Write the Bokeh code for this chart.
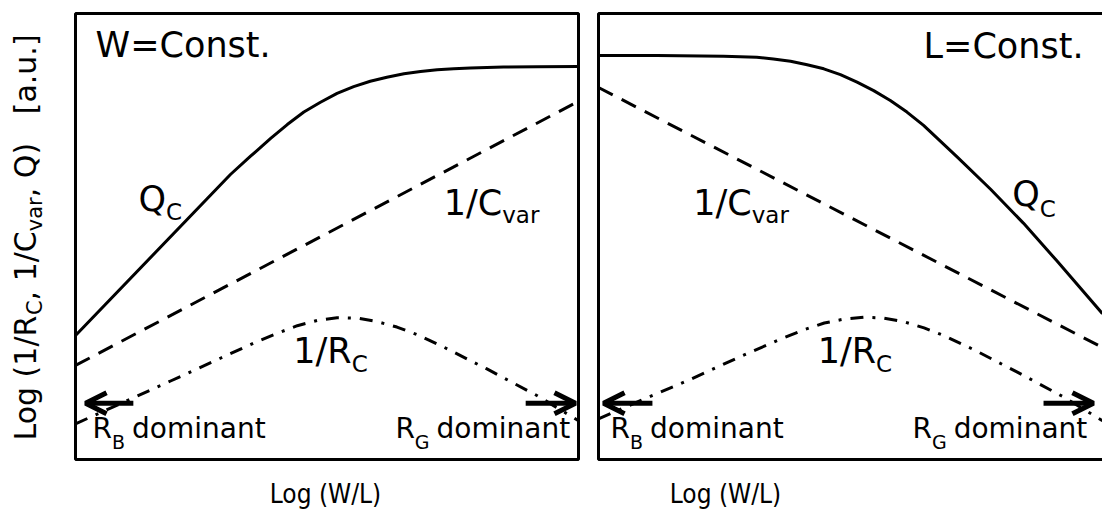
from bokeh.plotting import figure
from bokeh.layouts import row
from bokeh.models import Range1d, Arrow, OpenHead
from bokeh.core.properties import value
from bokeh.embed import file_html
from bokeh.resources import INLINE
import math

FONT = "DejaVu Sans"
NARROW_FONT = "DejaVu Sans Condensed, DejaVu Sans"

# ---------------- schematic curves (panel units: 0..100 on both axes) ----------------
# W = Const. panel
w_qc_x = [0, 30.8, 34.8, 38.8, 42.1, 45.4, 48.7, 52.0, 55.3, 58.6,
          61.9, 65.3, 68.6, 71.9, 75.2, 78.5, 85.1, 91.8, 100]
w_qc_y = [27.8, 63.9, 68.0, 72.0, 75.1, 77.9, 80.1, 82.1, 83.6, 84.8,
          85.7, 86.5, 87.0, 87.4, 87.6, 87.8, 88.0, 88.05, 88.1]
w_cvar_x = [0, 100]
w_cvar_y = [21.1, 80.3]
w_rc_x = [0, 8.9, 18.9, 28.8, 35.4, 40.1, 44.1, 48.1, 52.0, 56.0, 60.0, 63.9,
          67.9, 73.2, 81.8, 91.8, 100]
w_rc_y = [8.0, 12.5, 17.6, 22.7, 26.1, 28.3, 30.0, 31.2, 31.8, 31.7, 30.9, 29.7,
          28.0, 25.2, 20.3, 14.3, 8.7]

# L = Const. panel
l_qc_x = [0, 11.6, 24.8, 31.4, 34.7, 38.1, 41.4, 44.7, 48.0, 51.3, 54.6, 57.9,
          61.2, 64.5, 71.2, 77.8, 84.3, 90.9, 100]
l_qc_y = [90.6, 90.6, 90.4, 90.2, 89.8, 89.3, 88.5, 87.6, 86.3, 84.6, 82.7, 80.5,
          77.9, 74.9, 67.8, 60.6, 53.0, 44.6, 32.7]
l_cvar_x = [0, 100]
l_cvar_y = [83.4, 25.1]
l_rc_x = [0, 8.3, 18.3, 28.2, 35.5, 40.8, 44.8, 48.8, 52.6, 56.6, 60.6, 64.6,
          68.5, 74.5, 83.1, 92.3, 100]
l_rc_y = [9.1, 13.2, 18.0, 23.1, 26.7, 29.1, 30.6, 31.5, 31.9, 31.7, 30.9, 29.5,
          27.8, 24.6, 19.6, 14.0, 8.7]

# "dominant" arrows: (tail x, head x) at a common height
w_arrows = [(11.5, 2.0), (89.5, 99.4)]
l_arrows = [(10.7, 1.0), (88.3, 98.2)]
arrow_y = 12.6

# ---------------- geometry ----------------
W1, W2, H = 588, 514, 514
PX_X1 = 5.03          # px per unit, left panel
PX_X2 = 5.04          # px per unit, right panel
PX_Y = 4.46           # px per unit, both panels
BOX_LEFT1, BOX_LEFT2, BOX_BOTTOM = 75, 10, 459
BASE_SHIFT = 0.37     # em; moves the drawn baseline onto the requested one

# DejaVu Sans advance widths (em) used to lay out label pieces
EM = {' ': 0.318, '(': 0.390, ')': 0.390, ',': 0.318, '.': 0.318, '/': 0.337,
      '1': 0.636, '[': 0.390, ']': 0.390, '=': 0.838, 'L': 0.557, 'o': 0.612,
      'g': 0.635, 'R': 0.695, 'C': 0.698, 'Q': 0.787, 'a': 0.613, 'u': 0.634,
      'v': 0.592, 'r': 0.411, 'W': 0.989, 'n': 0.634, 's': 0.521, 't': 0.392,
      'd': 0.635, 'm': 0.974, 'i': 0.278, 'B': 0.686, 'G': 0.775}


def text_px(s, size):
    return sum(EM.get(c, 0.6) for c in s) * size


def make_panel(width, left_px, px_x):
    p = figure(width=width, height=H, output_backend="svg", toolbar_location=None,
               x_range=Range1d(-left_px / px_x, (width - left_px) / px_x),
               y_range=Range1d(-(H - BOX_BOTTOM) / PX_Y, BOX_BOTTOM / PX_Y),
               x_axis_location=None, y_axis_location=None, min_border=0)
    p.grid.visible = False
    p.outline_line_color = None
    p.background_fill_color = "white"
    p.border_fill_color = "white"
    return p


def put(p, x, y, s, size, angle=0.0, align="left", px_x=PX_X1, font=FONT):
    """Text whose alphabetic baseline sits at (x, y)."""
    shift = BASE_SHIFT * size
    if angle:
        x = x - shift / px_x
    else:
        y = y + shift / PX_Y
    p.text(x=[x], y=[y], text=[s], text_font=value(font), text_font_size=f"{size}px",
           text_align=align, text_baseline="alphabetic", text_color="black", angle=angle)


def sub_label(p, x, y, main, sub, px_x, size=35, sub_size=23, drop=8.5, tail=None, gap=0.3):
    """Main text followed by a subscript (and optional trailing word)."""
    put(p, x, y, main, size, px_x=px_x)
    xs = x + text_px(main, size) / px_x
    put(p, xs, y - drop / PX_Y, sub, sub_size, px_x=px_x)
    if tail:
        xt = xs + (text_px(sub, sub_size) + gap * size) / px_x
        put(p, xt, y, tail, size, px_x=px_x)


def curves(p, qc_x, qc_y, cv_x, cv_y, rc_x, rc_y, arrows, right):
    p.quad(left=[0], right=[right], bottom=[0], top=[100], fill_color=None,
           line_color="black", line_width=3)
    p.line(qc_x, qc_y, line_color="black", line_width=3, line_join="round")
    p.line(cv_x, cv_y, line_color="black", line_width=3, line_dash="16 10")
    p.line(rc_x, rc_y, line_color="black", line_width=3, line_dash="13 9 3 9",
           line_join="round")
    for xs, xe in arrows:
        p.add_layout(Arrow(x_start=xs, y_start=arrow_y, x_end=xe, y_end=arrow_y,
                           line_width=5, line_color="black",
                           end=OpenHead(size=21, line_width=5, line_color="black")))


# ---------------- left panel: W = Const. ----------------
p1 = make_panel(W1, BOX_LEFT1, PX_X1)
curves(p1, w_qc_x, w_qc_y, w_cvar_x, w_cvar_y, w_rc_x, w_rc_y, w_arrows, 100)
put(p1, 4.0, 90.1, "W=Const.", 35)
sub_label(p1, 12.5, 55.6, "Q", "C", PX_X1, drop=9)
sub_label(p1, 73.2, 54.7, "1/C", "var", PX_X1, drop=8)
sub_label(p1, 43.3, 21.5, "1/R", "C", PX_X1, drop=9)
sub_label(p1, 3.4, 4.6, "R", "B", PX_X1, size=28, sub_size=19, drop=10, tail="dominant", gap=0.25)
sub_label(p1, 63.6, 4.6, "R", "G", PX_X1, size=28, sub_size=19, drop=10, tail="dominant", gap=0.25)
put(p1, 49.7, -9.9, "Log (W/L)", 26, align="center", font=NARROW_FONT)

# rotated y label, read bottom to top
ylab_x = (36 - BOX_LEFT1) / PX_X1
ylab_size, ylab_sub = 30, 21
pieces = [("Log (1/R", False), ("C", True), (", 1/C", False), ("var", True),
          (", Q)", False), (None, False), ("[a.u.]", False)]
yy = (BOX_BOTTOM - 440) / PX_Y
for s, is_sub in pieces:
    if s is None:
        yy += 3 * EM[' '] * ylab_size / PX_Y
        continue
    size = ylab_sub if is_sub else ylab_size
    xx = ylab_x + (6 / PX_X1 if is_sub else 0)
    put(p1, xx, yy, s, size, angle=math.pi / 2)
    yy += text_px(s, size) / PX_Y

# ---------------- right panel: L = Const. ----------------
p2 = make_panel(W2, BOX_LEFT2, PX_X2)
curves(p2, l_qc_x, l_qc_y, l_cvar_x, l_cvar_y, l_rc_x, l_rc_y, l_arrows, 102)
put(p2, 64.5, 89.9, "L=Const.", 35, px_x=PX_X2)
sub_label(p2, 82.1, 56.6, "Q", "C", PX_X2, drop=10)
sub_label(p2, 18.8, 54.7, "1/C", "var", PX_X2, drop=8)
sub_label(p2, 43.5, 21.5, "1/R", "C", PX_X2, drop=9)
sub_label(p2, 2.4, 4.6, "R", "B", PX_X2, size=28, sub_size=19, drop=10, tail="dominant", gap=0.25)
sub_label(p2, 62.3, 4.6, "R", "G", PX_X2, size=28, sub_size=19, drop=10, tail="dominant", gap=0.25)
put(p2, 25.2, -9.9, "Log (W/L)", 26, align="center", px_x=PX_X2, font=NARROW_FONT)

layout = row(p1, p2, spacing=0)
open("out.html", "w").write(file_html(layout, INLINE))
